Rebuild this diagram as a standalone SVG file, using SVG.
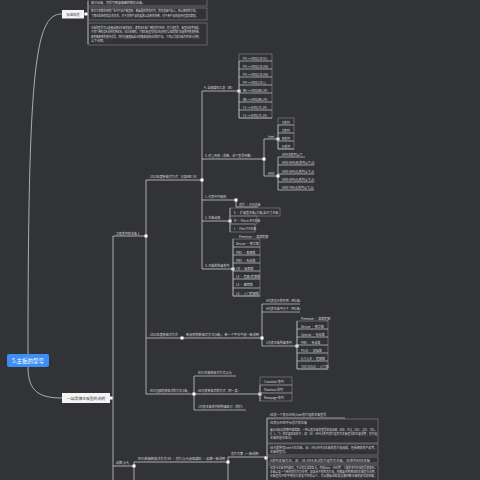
<svg xmlns="http://www.w3.org/2000/svg" width="480" height="480" viewBox="0 0 480 480">
<style>
.bg{fill:#323337}
.ln{stroke:#cccccc;stroke-width:0.8;fill:none}
.bx{stroke:#8a8a8a;stroke-width:0.6;fill:none}
.ul{stroke:#cccccc;stroke-width:0.7;fill:none}
.t{font-family:"Noto Sans CJK SC","Liberation Sans",sans-serif;font-size:3px;fill:#dadada}
.d{font-family:"Noto Sans CJK SC","Liberation Sans",sans-serif;fill:#333333}
.sq{fill:#ffffff}
</style>
<defs><rect id="sq" x="-1.5" y="-1.5" width="3" height="3" class="sq"/></defs>
<rect class="bg" x="0" y="0" width="480" height="480"/>

<g id="connectors">
<path class="ln" d="M28,354 C28,60 36,14 62,14"/>
<path class="ln" d="M28,367 C28,392 40,398 62,398"/>
<path class="ln" d="M84,14 H88 M88,1 V44"/>
<path class="ln" d="M110,398 H113 M113,236 V480 M113,236 H146"/>
<path class="ln" d="M146,180 V394 M146,180 H202 M146,338 H262 M146,394 H260"/>
<path class="ln" d="M202,91 V269 M202,91 H239 M202,159 H264 M202,200 H236 M202,221 H230 M202,269 H233"/>
<path class="ln" d="M239,61 V118"/>
<path class="ln" d="M264,139 V176 M264,139 H278 M264,176 H278 M278,125 V149 M278,157 V190"/>
<path class="ln" d="M236,200 V207 H258"/>
<path class="ln" d="M230,208 V232"/>
<path class="ln" d="M233,239 V296"/>
<path class="ln" d="M262,304 V346 M297,321 V369"/>
<path class="ln" d="M194,376 V410 M260,385 V401"/>
<path class="ln" d="M113,466 H134 M134,462 V480 M134,462 H228 M228,457 V480 M228,457 H266 M267,418 V480"/>
</g>

<g id="root">
<rect x="7" y="354" width="42" height="13" rx="2" fill="#3f8ef5"/>
<text x="28" y="362.8" text-anchor="middle" font-family="Noto Sans CJK SC, sans-serif" font-size="5.5" fill="#ffffff">5.主板的型号</text>
</g>

<g id="n-standard">
<rect x="62" y="10" width="22" height="8.5" fill="#f4f4f4"/>
<text class="d" x="73" y="15.5" text-anchor="middle" font-size="3.3">标准规范</text>
<use href="#sq" x="86" y="14"/>
</g>
<g id="n-std-text">
<rect class="bx" x="88" y="-4" width="119" height="10"/>
<text class="t" x="91" y="3.5">部分出来，然后可随意做图的解析出来。</text>
<rect class="bx" x="88" y="8" width="119" height="12"/>
<text class="t" x="91" y="12" textLength="107" lengthAdjust="spacingAndGlyphs">那对大家都在用的广告中产品不断更新，数据量的增加时间，而在基础产品上，用以相同的文档，</text>
<text class="t" x="91" y="17" textLength="107" lengthAdjust="spacingAndGlyphs">了解这些新的信息的关系，对于前期产品的要求以及新的参数，对于新产品的选择也更加清楚。</text>
<rect class="bx" x="88" y="23" width="119" height="22"/>
<text class="t" x="91" y="28.5" textLength="110" lengthAdjust="spacingAndGlyphs">主板的型号可以直接反映出主板的定位，通常由主板厂商的系列名称、芯片组型号、板型规格等组成，</text>
<text class="t" x="91" y="33" textLength="110" lengthAdjust="spacingAndGlyphs">不同厂商的命名规则有所区别，但大体相同。了解主板型号的命名规则可以帮助我们在选购时快速判断，</text>
<text class="t" x="91" y="37.5" textLength="110" lengthAdjust="spacingAndGlyphs">避免被商家的宣传误导，同时也能根据自己的需求选择合适的产品，下面以华硕主板为例进行说明，</text>
<text class="t" x="91" y="42">以下说明。</text>
</g>

<g id="n-brand">
<rect x="62" y="393" width="48" height="10" fill="#f4f4f4"/>
<text class="d" x="86" y="399.6" text-anchor="middle" font-size="3.8">一站品牌主板型的说明</text>
<use href="#sq" x="111" y="398"/>
</g>

<g id="n-asus"><text class="t" x="116" y="234.5">华硕系列的主板 1</text><use href="#sq" x="146" y="236"/></g>
<g id="n-fmt1"><text class="t" x="150" y="178">2013年度新格式方式：记录ABC 5X</text><use href="#sq" x="202" y="180"/></g>
<g id="n-fmt2"><text class="t" x="150" y="336">2013年度新格式方式</text><use href="#sq" x="182" y="338"/></g>
<g id="n-fmt2b"><text class="t" x="186" y="336" textLength="73" lengthAdjust="spacingAndGlyphs">新规则的新格式方式(5条)，新一个字节气泡一致说明</text><use href="#sq" x="262" y="338"/></g>
<g id="n-fmt3"><text class="t" x="150" y="392" textLength="38" lengthAdjust="spacingAndGlyphs">ROG也频道新格式的方式(5条)</text><use href="#sq" x="194" y="394"/></g>

<g id="n-4"><text class="t" x="204" y="89">4. 全部编码汇总（四）</text><use href="#sq" x="239" y="91"/></g>
<g id="n-4-items">
<rect class="bx" x="239" y="54" width="33" height="64"/>
<path class="ul" d="M239,61 H272 M239,69 H272 M239,77 H272 M239,85 H272 M239,93 H272 M239,102 H272 M239,110 H272 M239,118 H272"/>
<text class="t" x="243" y="59.5">P5 → AMD(CR-SV)</text>
<text class="t" x="243" y="67.5">P5 → AMD(CR-2W)</text>
<text class="t" x="243" y="75.5">P5 → AMD(CR-2W)</text>
<text class="t" x="243" y="83.5">P4 → AMD(CR-1)</text>
<text class="t" x="243" y="91.5">B6 → AMD(B6-3P)</text>
<text class="t" x="243" y="100.5">B6 → AMD(B6-2P)</text>
<text class="t" x="243" y="108.5">F1 → AMD(T5-2P)</text>
<text class="t" x="243" y="116.5">F1 → AMD(T5-1P)</text>
</g>

<g id="n-5"><text class="t" x="205" y="157">5. 仿冒判别（参数，这个型号判断）</text><use href="#sq" x="264" y="159"/></g>
<g id="n-intel"><text class="t" x="268" y="137.5">Intel</text><use href="#sq" x="278" y="139"/></g>
<g id="n-intel-items">
<rect class="bx" x="278" y="118" width="16" height="31"/>
<path class="ul" d="M278,125 H294 M278,133 H294 M278,141 H294 M278,149 H294"/>
<text class="t" x="282" y="123.5">X系列</text>
<text class="t" x="282" y="131.5">Z系列</text>
<text class="t" x="282" y="139.5">B系列</text>
<text class="t" x="282" y="147.5">H系列</text>
</g>
<g id="n-amd"><text class="t" x="268" y="174.5">AMD</text><use href="#sq" x="278" y="176"/></g>
<g id="n-amd-items">
<path class="ul" d="M278,157 H305 M278,165 H314 M278,174 H314 M278,182 H314 M278,190 H314"/>
<text class="t" x="282" y="155.5">AM4 B系列以下</text>
<text class="t" x="282" y="163.5">AMD AM4(B)系列以下(3)</text>
<text class="t" x="282" y="172.5">AMD AM4(X)系列以下(3)</text>
<text class="t" x="282" y="180.5">AMD AM4(A)系列以下(3)</text>
<text class="t" x="282" y="188.5">AMD TR4(X)系列以下(3)</text>
</g>

<g id="n-1"><text class="t" x="205" y="198">1. 代表中间级别</text><use href="#sq" x="236" y="200"/></g>
<g id="n-1-item"><text class="t" x="239" y="205.7">芯片 · ATX主板</text></g>

<g id="n-2"><text class="t" x="205" y="219">2. 主板规格</text><use href="#sq" x="230" y="221"/></g>
<g id="n-2-items">
<rect class="bx" x="230" y="208" width="50" height="8"/>
<rect class="bx" x="230" y="216" width="27" height="8"/>
<rect class="bx" x="230" y="224" width="25" height="8"/>
<text class="t" x="234" y="213.5">E · 扩展型主板(大板)全尺寸主板</text>
<text class="t" x="234" y="221.5">M · Micro ATX主板</text>
<text class="t" x="234" y="229.5">I · Mini ITX主板</text>
</g>

<g id="n-3"><text class="t" x="205" y="267">3. 主板的所属系列</text><use href="#sq" x="233" y="269"/></g>
<g id="n-3-items">
<rect class="bx" x="233" y="239" width="27" height="57"/>
<path class="ul" d="M233,247 H260 M233,255 H260 M233,263 H260 M233,271 H260 M233,279 H260 M233,288 H260 M233,296 H260"/>
<text class="t" x="239" y="237.5">Premium · 高端超频</text>
<text class="t" x="236" y="245">Deluxe · 豪华版</text>
<text class="t" x="236" y="253.5">PRO · 普通版</text>
<text class="t" x="236" y="261.5">PRO · 专业版</text>
<text class="t" x="236" y="269.5">CR · 玩家版</text>
<text class="t" x="236" y="277.5">LE · 超频/超速版</text>
<text class="t" x="236" y="286">LE · 精简版</text>
<text class="t" x="236" y="294.5">LE · 入门超频版</text>
</g>

<g id="n-mid-items">
<path class="ul" d="M262,304 H300 M262,312 H300 M262,346 H297"/>
<text class="t" x="266" y="302">A代表运行的东西（到1级）</text>
<text class="t" x="266" y="310">A代表主板平行下（到1级）</text>
<text class="t" x="266" y="343.5">1代表主板所属系列</text>
<use href="#sq" x="297" y="346"/>
</g>
<g id="n-series-items">
<rect class="bx" x="297" y="321" width="31" height="48"/>
<path class="ul" d="M297,329 H328 M297,337 H328 M297,345 H328 M297,353 H328 M297,361 H328 M297,369 H328"/>
<text class="t" x="301" y="319.5">Premium · 高端超频</text>
<text class="t" x="301" y="327.5">Deluxe · 豪华版</text>
<text class="t" x="301" y="335.5">Special · 专业版</text>
<text class="t" x="301" y="343.5">PRO · 专业版</text>
<text class="t" x="301" y="351.5">PLUS · 加强版</text>
<text class="t" x="301" y="359.5">A/T/S/R · 超频版</text>
<text class="t" x="301" y="367.5">TUF/GOLD · 入门版</text>
</g>

<g id="n-rog-items">
<path class="ul" d="M194,376 H236 M194,410 H246"/>
<text class="t" x="198" y="374">ROG主板新格式方式(5/4)</text>
<text class="t" x="198" y="392">AE代表新格式的方式（同一类）</text>
<text class="t" x="198" y="408">1代表主板系列的所属区分（我们）</text>
<use href="#sq" x="260" y="394"/>
</g>
<g id="n-rog-sub">
<rect class="bx" x="260" y="377" width="32" height="8"/>
<rect class="bx" x="260" y="385" width="32" height="8"/>
<rect class="bx" x="260" y="393" width="32" height="8"/>
<text class="t" x="264" y="383">Crosshair 系列</text>
<text class="t" x="264" y="391">Maximus 系列</text>
<text class="t" x="264" y="399">Rampage 系列</text>
</g>

<g id="n-b1"><text class="t" x="116" y="464">品牌 (5/4)</text><use href="#sq" x="134" y="466"/></g>
<g id="n-b2"><text class="t" x="138" y="460" textLength="87" lengthAdjust="spacingAndGlyphs">ROG新板新格式方式 AX · 芯片(5/4)规格编码 · 品牌一致说明</text><use href="#sq" x="228" y="462"/></g>
<g id="n-b3"><text class="t" x="231" y="455">芯片方案（一致说明）</text><use href="#sq" x="266" y="458"/></g>
<g id="n-b-text">
<path class="ul" d="M267,418 H345"/>
<text class="t" x="270" y="416">AE前一个表示AMD/Intel芯片组的主板型号</text>
<rect class="bx" x="267" y="419" width="111" height="24"/>
<text class="t" x="270" y="423.5">AE表示AMD平台芯片的主板</text>
<text class="t" x="270" y="431" textLength="107" lengthAdjust="spacingAndGlyphs">展示出标记的套件编辑器，一种以其主板和型号区别出来（X86、P21、H31、Q31、Y31，</text>
<text class="t" x="270" y="435" textLength="107" lengthAdjust="spacingAndGlyphs">X、L、T）的主要区别在于，如：AE·AM4/X系列芯片组作为主板型号的主要参考，芯片组</text>
<text class="t" x="270" y="439">主板的定位区分。</text>
<rect class="bx" x="267" y="444" width="111" height="11"/>
<text class="t" x="270" y="448.5" textLength="107" lengthAdjust="spacingAndGlyphs">AE代表所有Intel ATX主板，由：AM/AMP/X主板的芯片组组成，包括相关的产品等，</text>
<text class="t" x="270" y="452.5">主板的型号。</text>
<rect class="bx" x="267" y="457" width="111" height="6"/>
<text class="t" x="270" y="461.5" textLength="100" lengthAdjust="spacingAndGlyphs">A系列主板为主，由：AE-AM4/B/X芯片组作为主板，X5系列AMD主板</text>
<rect class="bx" x="267" y="465" width="111" height="20"/>
<text class="t" x="270" y="468.5" textLength="107" lengthAdjust="spacingAndGlyphs">AE表示主板系列编码，不论有各类的区分，例如Intel、AMD等，三星的系列主板型号的区别，</text>
<text class="t" x="270" y="472.5" textLength="107" lengthAdjust="spacingAndGlyphs">主板以及一个新的型号作为参考，如果是不同的芯片组，则需要参考相应的主板型号说明，</text>
<text class="t" x="270" y="476.5" textLength="107" lengthAdjust="spacingAndGlyphs">主板型号中的字母也代表着不同的含义，可以根据这些信息来判断主板的定位和性能，</text>
</g>
</svg>
